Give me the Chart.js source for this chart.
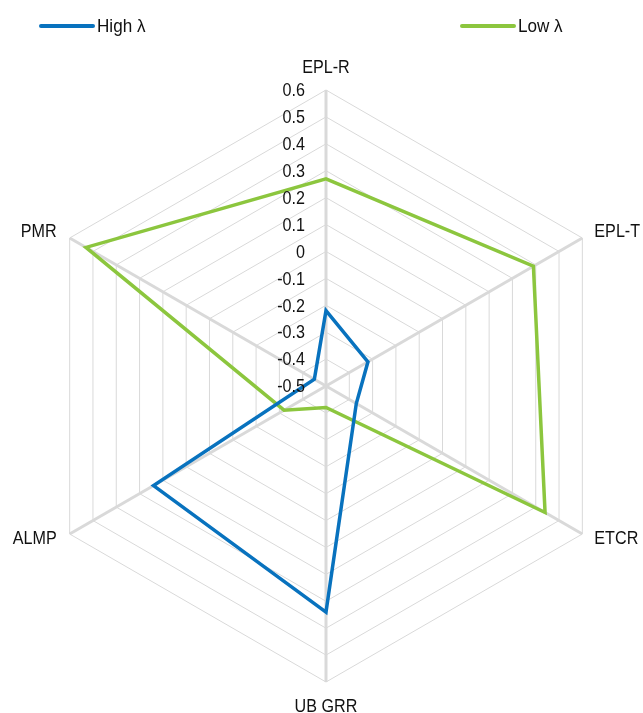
<!DOCTYPE html>
<html><head><meta charset="utf-8">
<script src="https://cdn.jsdelivr.net/npm/chart.js@4.4.1/dist/chart.umd.min.js"></script>
<style>html,body{margin:0;padding:0;background:#fff}#wrap{width:643px;height:713px;position:relative}</style>
</head><body><div id="wrap"><canvas id="c"></canvas></div>
<script>
const categories = ['EPL-R', 'EPL-T', 'ETCR', 'UB GRR', 'ALMP', 'PMR'];
const highLambda = [-0.22, -0.32, -0.37, 0.34, 0.24, -0.45];
const lowLambda = [0.27, 0.39, 0.44, -0.42, -0.32, 0.53];
const seriesNames = ['High λ', 'Low λ'];
const seriesColors = ['#0872be', '#8cc63e'];
const tickMin = -0.5, tickMax = 0.6, tickStep = 0.1;

const FONT = '"Liberation Sans", Arial, sans-serif';

function narrowText(ctx, text, x, y, sx) {
  ctx.save();
  ctx.translate(x, y);
  ctx.scale(sx, 1);
  ctx.fillText(text, 0, 0);
  ctx.restore();
}

const overlay = {
  id: 'overlay',
  afterDraw(chart) {
    const ctx = chart.ctx;
    const s = chart.scales.r;
    ctx.save();
    ctx.fillStyle = '#111';
    // tick labels
    ctx.font = '19px ' + FONT;
    ctx.textAlign = 'right';
    ctx.textBaseline = 'middle';
    s.ticks.forEach(t => {
      const y = s.yCenter - s.getDistanceFromCenterForValue(t.value);
      narrowText(ctx, t.label, s.xCenter - 21, y + 1, 0.85);
    });
    // point labels
    chart.data.labels.forEach((lab, i) => {
      const p = s.getPointPosition(i, s.drawingArea);
      const dx = p.x - s.xCenter, dy = p.y - s.yCenter;
      let x = p.x, y = p.y;
      if (Math.abs(dx) < 1) {
        ctx.textAlign = 'center';
        y += dy < 0 ? -22 : 25;
      } else {
        ctx.textAlign = dx > 0 ? 'left' : 'right';
        x += dx > 0 ? 12 : -13;
        y += dy < 0 ? -6 : 5;
      }
      narrowText(ctx, lab, x, y, 0.85);
    });
    // legend
    ctx.font = '19px ' + FONT;
    ctx.textAlign = 'left';
    const starts = [40, 461];
    chart.data.datasets.forEach((ds, i) => {
      const x0 = starts[i];
      ctx.strokeStyle = ds.borderColor;
      ctx.lineWidth = 4;
      ctx.lineCap = 'round';
      ctx.beginPath();
      ctx.moveTo(x0 + 1, 26);
      ctx.lineTo(x0 + 53, 26);
      ctx.stroke();
      narrowText(ctx, ds.label, x0 + 57, 27, 0.9);
    });
    ctx.restore();
  }
};

new Chart(document.getElementById('c'), {
  type: 'radar',
  data: {
    labels: categories,
    datasets: [
      { label: seriesNames[0], data: highLambda, borderColor: seriesColors[0], borderWidth: 3.5, pointRadius: 0, fill: false, tension: 0 },
      { label: seriesNames[1], data: lowLambda, borderColor: seriesColors[1], borderWidth: 3.5, pointRadius: 0, fill: false, tension: 0 }
    ]
  },
  options: {
    responsive: true,
    maintainAspectRatio: false,
    animation: false,
    devicePixelRatio: 1,
    layout: { padding: { left: 30, right: 21, top: 90, bottom: 31 } },
    plugins: { legend: { display: false }, tooltip: { enabled: false } },
    elements: { line: { borderJoinStyle: 'miter' } },
    scales: {
      r: {
        min: tickMin, max: tickMax,
        ticks: { display: false, stepSize: tickStep },
        grid: { color: '#d9d9d9', lineWidth: 1 },
        angleLines: { color: '#d9d9d9', lineWidth: 3 },
        pointLabels: { display: false }
      }
    }
  },
  plugins: [overlay]
});
</script>
</body></html>
